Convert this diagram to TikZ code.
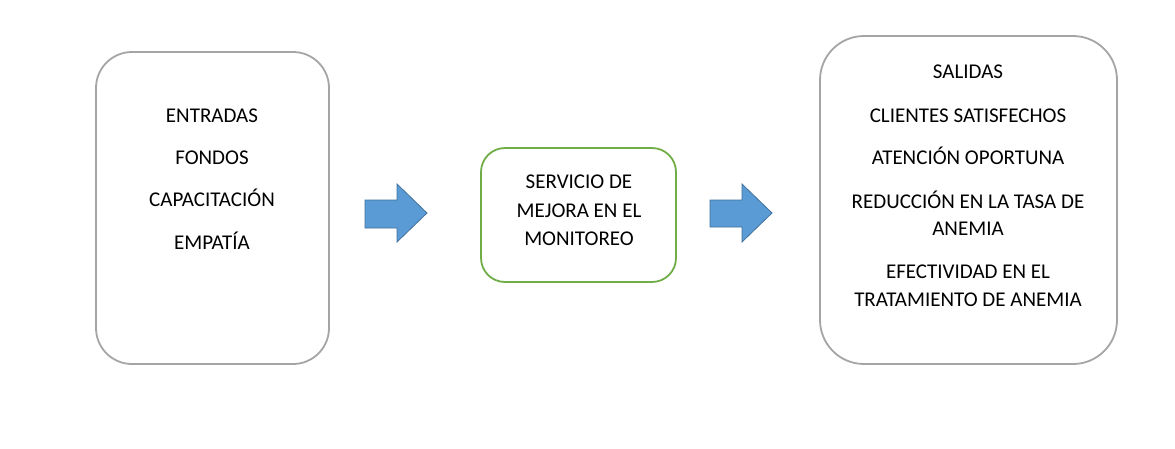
\documentclass[tikz,border=0pt]{standalone}
\usepackage{fontspec}
\setmainfont{Carlito}
\definecolor{boxgray}{HTML}{A5A5A5}
\definecolor{boxgreen}{HTML}{70AD47}
\definecolor{arrowfill}{HTML}{5B9BD5}
\definecolor{arrowline}{HTML}{41719C}
\begin{document}
\begin{tikzpicture}[x=1pt,y=-1pt,
  txt/.style={anchor=base,inner sep=0pt,font=\fontsize{21}{25}\selectfont},
  graybox/.style={draw=boxgray,line width=1.8pt,fill=white},
  greenbox/.style={draw=boxgreen,line width=1.8pt,fill=white},
  blockarrow/.style={fill=arrowfill,draw=arrowline,line width=0.8pt,line join=miter}]
\useasboundingbox (0,0) rectangle (1175,448);
\fill[white] (0,0) rectangle (1175,448);
% boxes
\draw[graybox,rounded corners=36pt] (96,52) rectangle (329,364);
\draw[greenbox,rounded corners=24pt] (481,148) rectangle (676,282);
\draw[graybox,rounded corners=44pt] (820,36) rectangle (1117,364);
% arrows
\draw[blockarrow] (365,200) -- (397,200) -- (397,184) -- (427,213) -- (397,242) -- (397,228) -- (365,228) -- cycle;
\draw[blockarrow] (710,200) -- (742,200) -- (742,184) -- (772,213) -- (742,242) -- (742,227) -- (710,227) -- cycle;
% left text
\node[txt] (l1) at (212,122) {ENTRADAS};
\node[txt] (l2) at (212,164) {FONDOS};
\node[txt] (l3) at (212,206) {CAPACITACIÓN};
\node[txt] (l4) at (212,249) {EMPATÍA};
% middle text
\node[txt] (m1) at (579,188) {SERVICIO DE};
\node[txt] (m2) at (579,217) {MEJORA EN EL};
\node[txt] (m3) at (579,245) {MONITOREO};
% right text
\node[txt] (r1) at (968,78) {SALIDAS};
\node[txt] (r2) at (968,122) {CLIENTES SATISFECHOS};
\node[txt] (r3) at (968,164) {ATENCIÓN OPORTUNA};
\node[txt] (r4) at (968,208) {REDUCCIÓN EN LA TASA DE};
\node[txt] (r5) at (968,235) {ANEMIA};
\node[txt] (r6) at (968,278) {EFECTIVIDAD EN EL};
\node[txt] (r7) at (968,306) {TRATAMIENTO DE ANEMIA};
\end{tikzpicture}
\end{document}
